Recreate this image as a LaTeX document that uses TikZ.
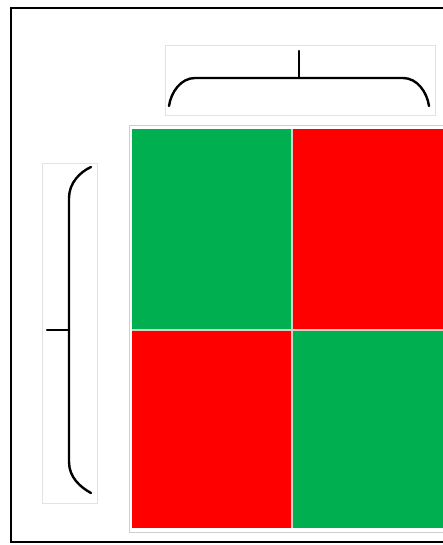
\documentclass[tikz,border=0pt]{standalone}
\definecolor{cellgreen}{HTML}{00B050}
\definecolor{cellred}{HTML}{FF0000}
\definecolor{boxgrey}{HTML}{E2E2E2}
\definecolor{gridline}{HTML}{D8D0C4}
\tikzset{
  bracestroke/.style={line width=2.4pt, black, line cap=round},
  lightbox/.style={draw=boxgrey, line width=0.8pt},
  cellbox/.style={draw=none, inner sep=0pt, outer sep=0pt},
}
\begin{document}
\begin{tikzpicture}[x=1pt,y=-1pt]
\useasboundingbox (0,0) rectangle (443,545);
\clip (0,0) rectangle (443,545);
% outer frame
\draw[line width=2pt, black] (10.5,8.5) rectangle (470,542);
% top brace box
\draw[lightbox] (165,45) rectangle (435,115);
% top brace
\coordinate (tl) at (169,106);
\coordinate (tr) at (429,106);
\coordinate (tm) at (299,78);
\coordinate (tt) at (299,51);
\draw[bracestroke] (tl) .. controls (171,92) and (181,78) .. (195,78) -- (403,78) .. controls (417,78) and (427,92) .. (tr);
\draw[bracestroke] (tm) -- (tt);
% left brace box
\draw[lightbox] (42,163) rectangle (97,503);
% left brace
\coordinate (lt) at (91,167);
\coordinate (lb) at (91,493);
\coordinate (lm) at (69,330);
\coordinate (ll) at (47,330);
\draw[bracestroke] (lt) .. controls (80,172) and (69,183) .. (69,198) -- (69,462) .. controls (69,477) and (80,487) .. (lb);
\draw[bracestroke] (lm) -- (ll);
% grid frame
\draw[draw=boxgrey!80!gray, line width=1pt] (129.5,125.5) rectangle (480,532);
% cells
\fill[cellgreen] (132,129) rectangle (292,330);
\fill[cellred] (292,129) rectangle (470,330);
\fill[cellred] (132,330) rectangle (292,528);
\fill[cellgreen] (292,330) rectangle (470,528);
\draw[gridline, line width=1.3pt] (292,129) -- (292,528);
\draw[gridline, line width=1.3pt] (132,330) -- (470,330);
\end{tikzpicture}
\end{document}
